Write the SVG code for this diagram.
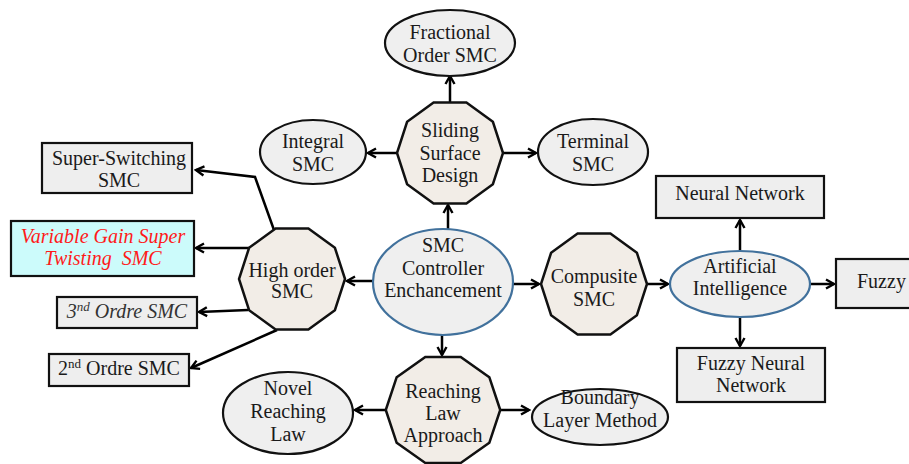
<svg xmlns="http://www.w3.org/2000/svg" xmlns:xlink="http://www.w3.org/1999/xlink" width="909" height="464" viewBox="0 0 909 464" font-family="Liberation Serif, Times New Roman, serif">
<style>
text{font-family:"Liberation Serif","Times New Roman",Times,serif;font-size:20px;fill:#1a1a1a;text-anchor:middle}
.dec{fill:#f2ede7;stroke:#111;stroke-width:2.5}
.ell{fill:#efefef;stroke:#111;stroke-width:2.2}
.blue{fill:#efefef;stroke:#41719c;stroke-width:2.2}
.box{fill:#eeeeee;stroke:#111;stroke-width:2.2}
.cyan{fill:#ccfbfb;stroke:#111;stroke-width:2.2}
.con{fill:none;stroke:#000;stroke-width:2.5;marker-end:url(#ah)}
.red{fill:#ff1a1a;font-style:italic}
.it{font-style:italic;fill:#333}
</style>
<defs>
<polygon id="dec" points="53,0 42.9,-31.2 16.4,-50.4 -16.4,-50.4 -42.9,-31.2 -53,0 -42.9,31.2 -16.4,50.4 16.4,50.4 42.9,31.2"/>
<marker id="ah" viewBox="0 0 12 12" refX="10" refY="6" markerWidth="12" markerHeight="12" markerUnits="userSpaceOnUse" orient="auto">
<path d="M2,1.5 L10,6 L2,10.5" fill="none" stroke="#000" stroke-width="2.4"/>
</marker>
</defs>
<g id="connectors">
<line class="con" x1="448" y1="229" x2="448" y2="205"/>
<line class="con" x1="450" y1="103" x2="450" y2="76"/>
<line class="con" x1="398" y1="153" x2="368" y2="153"/>
<line class="con" x1="503" y1="153" x2="536" y2="153"/>
<line class="con" x1="373" y1="281" x2="347" y2="281"/>
<line class="con" x1="513" y1="284" x2="539" y2="284"/>
<line class="con" x1="647" y1="284" x2="668" y2="284"/>
<line class="con" x1="810" y1="284" x2="834" y2="284"/>
<line class="con" x1="740" y1="250" x2="740" y2="220"/>
<line class="con" x1="740" y1="317" x2="740" y2="346"/>
<line class="con" x1="442" y1="335" x2="442" y2="355"/>
<line class="con" x1="385" y1="410" x2="355" y2="410"/>
<line class="con" x1="500" y1="410" x2="529" y2="410"/>
<polyline class="con" points="274,230 255,177 196,170"/>
<line class="con" x1="251" y1="248" x2="196" y2="248"/>
<line class="con" x1="248" y1="310" x2="199" y2="312"/>
<line class="con" x1="277" y1="330" x2="191" y2="368"/>
</g>
<g id="fractional"><ellipse class="ell" cx="450" cy="43" rx="65" ry="33"/><text x="450" y="39">Fractional</text><text x="450" y="62">Order SMC</text></g>
<g id="sliding"><use xlink:href="#dec" class="dec" transform="translate(450,153)"/><text x="450" y="137">Sliding</text><text x="450" y="160">Surface</text><text x="450" y="182">Design</text></g>
<g id="integral"><ellipse class="ell" cx="313" cy="152" rx="53" ry="32"/><text x="313" y="148">Integral</text><text x="313" y="171">SMC</text></g>
<g id="terminal"><ellipse class="ell" cx="593" cy="152" rx="55" ry="33"/><text x="593" y="148">Terminal</text><text x="593" y="171">SMC</text></g>
<g id="supersw"><rect class="box" x="42" y="143" width="150" height="50"/><text x="119" y="165">Super-Switching</text><text x="119" y="187">SMC</text></g>
<g id="vgst"><rect class="cyan" x="11" y="221" width="183" height="55"/><text class="red" x="103" y="243">Variable Gain Super</text><text class="red" x="103" y="265" xml:space="preserve">Twisting  SMC</text></g>
<g id="third"><rect class="box" x="57" y="297" width="140" height="31"/><text class="it" x="127" y="318">3<tspan font-size="13" dy="-7">nd</tspan><tspan dy="7"> Ordre SMC</tspan></text></g>
<g id="second"><rect class="box" x="49" y="354" width="140" height="32"/><text x="119" y="375">2<tspan font-size="13" dy="-7">nd</tspan><tspan dy="7"> Ordre SMC</tspan></text></g>
<g id="highorder"><use xlink:href="#dec" class="dec" transform="translate(292,279)"/><text x="292" y="277">High order</text><text x="292" y="298">SMC</text></g>
<g id="center"><ellipse class="blue" cx="443" cy="282" rx="70" ry="53"/><text x="443" y="252">SMC</text><text x="443" y="275">Controller</text><text x="443" y="297">Enchancement</text></g>
<g id="compusite"><use xlink:href="#dec" class="dec" transform="translate(594,284)"/><text x="594" y="283">Compusite</text><text x="594" y="306">SMC</text></g>
<g id="ai"><ellipse class="blue" cx="740" cy="284" rx="70" ry="33"/><text x="740" y="273">Artificial</text><text x="740" y="295">Intelligence</text></g>
<g id="neural"><rect class="box" x="656" y="176" width="168" height="42"/><text x="740" y="200">Neural Network</text></g>
<g id="fuzzy"><rect class="box" x="836" y="259" width="80" height="49"/><text x="857" y="288" style="text-anchor:start">Fuzzy</text></g>
<g id="fnn"><rect class="box" x="677" y="348" width="148" height="54"/><text x="751" y="370">Fuzzy Neural</text><text x="751" y="392">Network</text></g>
<g id="reaching"><use xlink:href="#dec" class="dec" transform="translate(443,410) scale(1.08,1.05)" style="stroke-width:2.35"/><text x="443" y="398">Reaching</text><text x="443" y="420">Law</text><text x="443" y="442">Approach</text></g>
<g id="novel"><ellipse class="ell" cx="288" cy="413" rx="65" ry="41"/><text x="288" y="395">Novel</text><text x="288" y="418">Reaching</text><text x="288" y="441">Law</text></g>
<g id="boundary"><ellipse class="ell" cx="600" cy="417" rx="68" ry="28"/><text x="600" y="404">Boundary</text><text x="600" y="427">Layer Method</text></g>
</svg>
